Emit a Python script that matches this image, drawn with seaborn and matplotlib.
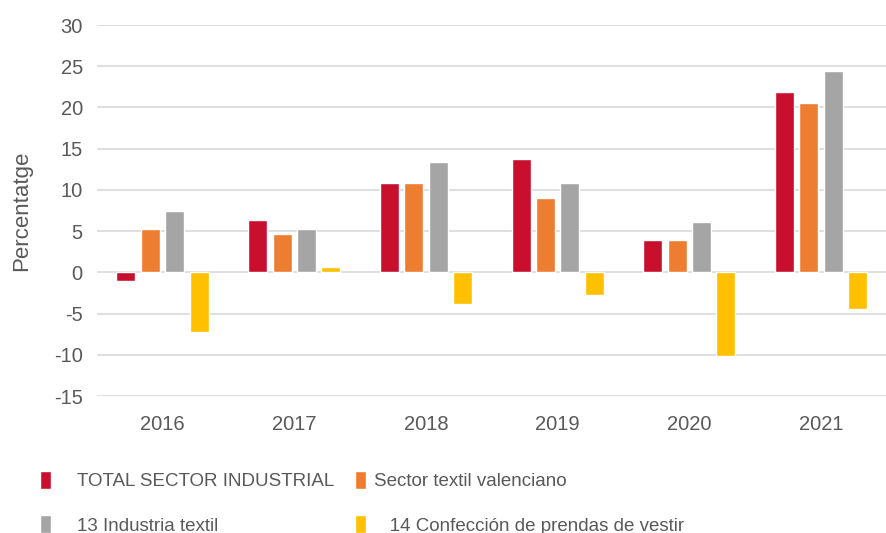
import matplotlib
matplotlib.use("Agg")
import matplotlib.pyplot as plt
import pandas as pd
import seaborn as sns

# datos
years = ["2016", "2017", "2018", "2019", "2020", "2021"]
series = ["TOTAL SECTOR INDUSTRIAL", "Sector textil valenciano",
          "13 Industria textil", "14 Confección de prendas de vestir"]
total_industrial = [-1.0, 6.4, 10.9, 13.7, 3.9, 21.9]
textil_valenciano = [5.2, 4.6, 10.9, 9.0, 3.9, 20.5]
industria_textil = [7.5, 5.2, 13.4, 10.8, 6.1, 24.4]
confeccion = [-7.2, 0.6, -3.8, -2.8, -10.2, -4.5]
colors = ["#C8102E", "#ED7D31", "#A5A5A5", "#FFC000"]

values = [total_industrial, textil_valenciano, industria_textil, confeccion]
rows = []
for name, vals in zip(series, values):
    for y, v in zip(years, vals):
        rows.append({"year": y, "serie": name, "value": v})
df = pd.DataFrame(rows)

sns.set_style("white")
plt.rcParams['font.family'] = ['Liberation Sans', 'DejaVu Sans']
plt.rcParams['axes.unicode_minus'] = False
text_color = "#595959"

fig = plt.figure(figsize=(8.87, 5.33), dpi=100)
ax = fig.add_axes([0.109, 0.257, 0.891, 0.696])

sns.barplot(data=df, x="year", y="value", hue="serie", palette=colors,
            width=0.74, gap=0.22, ax=ax, saturation=1, legend=True)

ax.set_ylim(-15, 30)
ax.set_yticks(range(-15, 31, 5))
ax.yaxis.grid(True, color="#D9D9D9", linewidth=1.2)
ax.set_axisbelow(True)
for s in ax.spines.values():
    s.set_visible(False)
ax.tick_params(axis="both", length=0, labelsize=14.5, colors=text_color, pad=10)
ax.tick_params(axis="x", pad=14)
ax.set_xlabel("")
ax.set_ylabel("Percentatge", fontsize=16, color=text_color, labelpad=16)

handles, labels = ax.get_legend_handles_labels()
ax.get_legend().remove()

# dos columnas de leyenda, colocadas por separado
leg_kw = dict(loc="upper left", frameon=False, fontsize=13.5,
              labelcolor=text_color, handlelength=0.6, handleheight=1.1,
              labelspacing=1.35, borderpad=0, borderaxespad=0)
leg1 = fig.legend([handles[0], handles[2]], [labels[0], labels[2]],
                  bbox_to_anchor=(0.045, 0.117), handletextpad=1.4, **leg_kw)
leg2 = fig.legend([handles[1], handles[3]], [labels[1], labels[3]],
                  bbox_to_anchor=(0.40, 0.117), handletextpad=0.4, **leg_kw)
leg2.get_texts()[1].set_text("   " + labels[3])

fig.savefig("out.png", dpi=100)
